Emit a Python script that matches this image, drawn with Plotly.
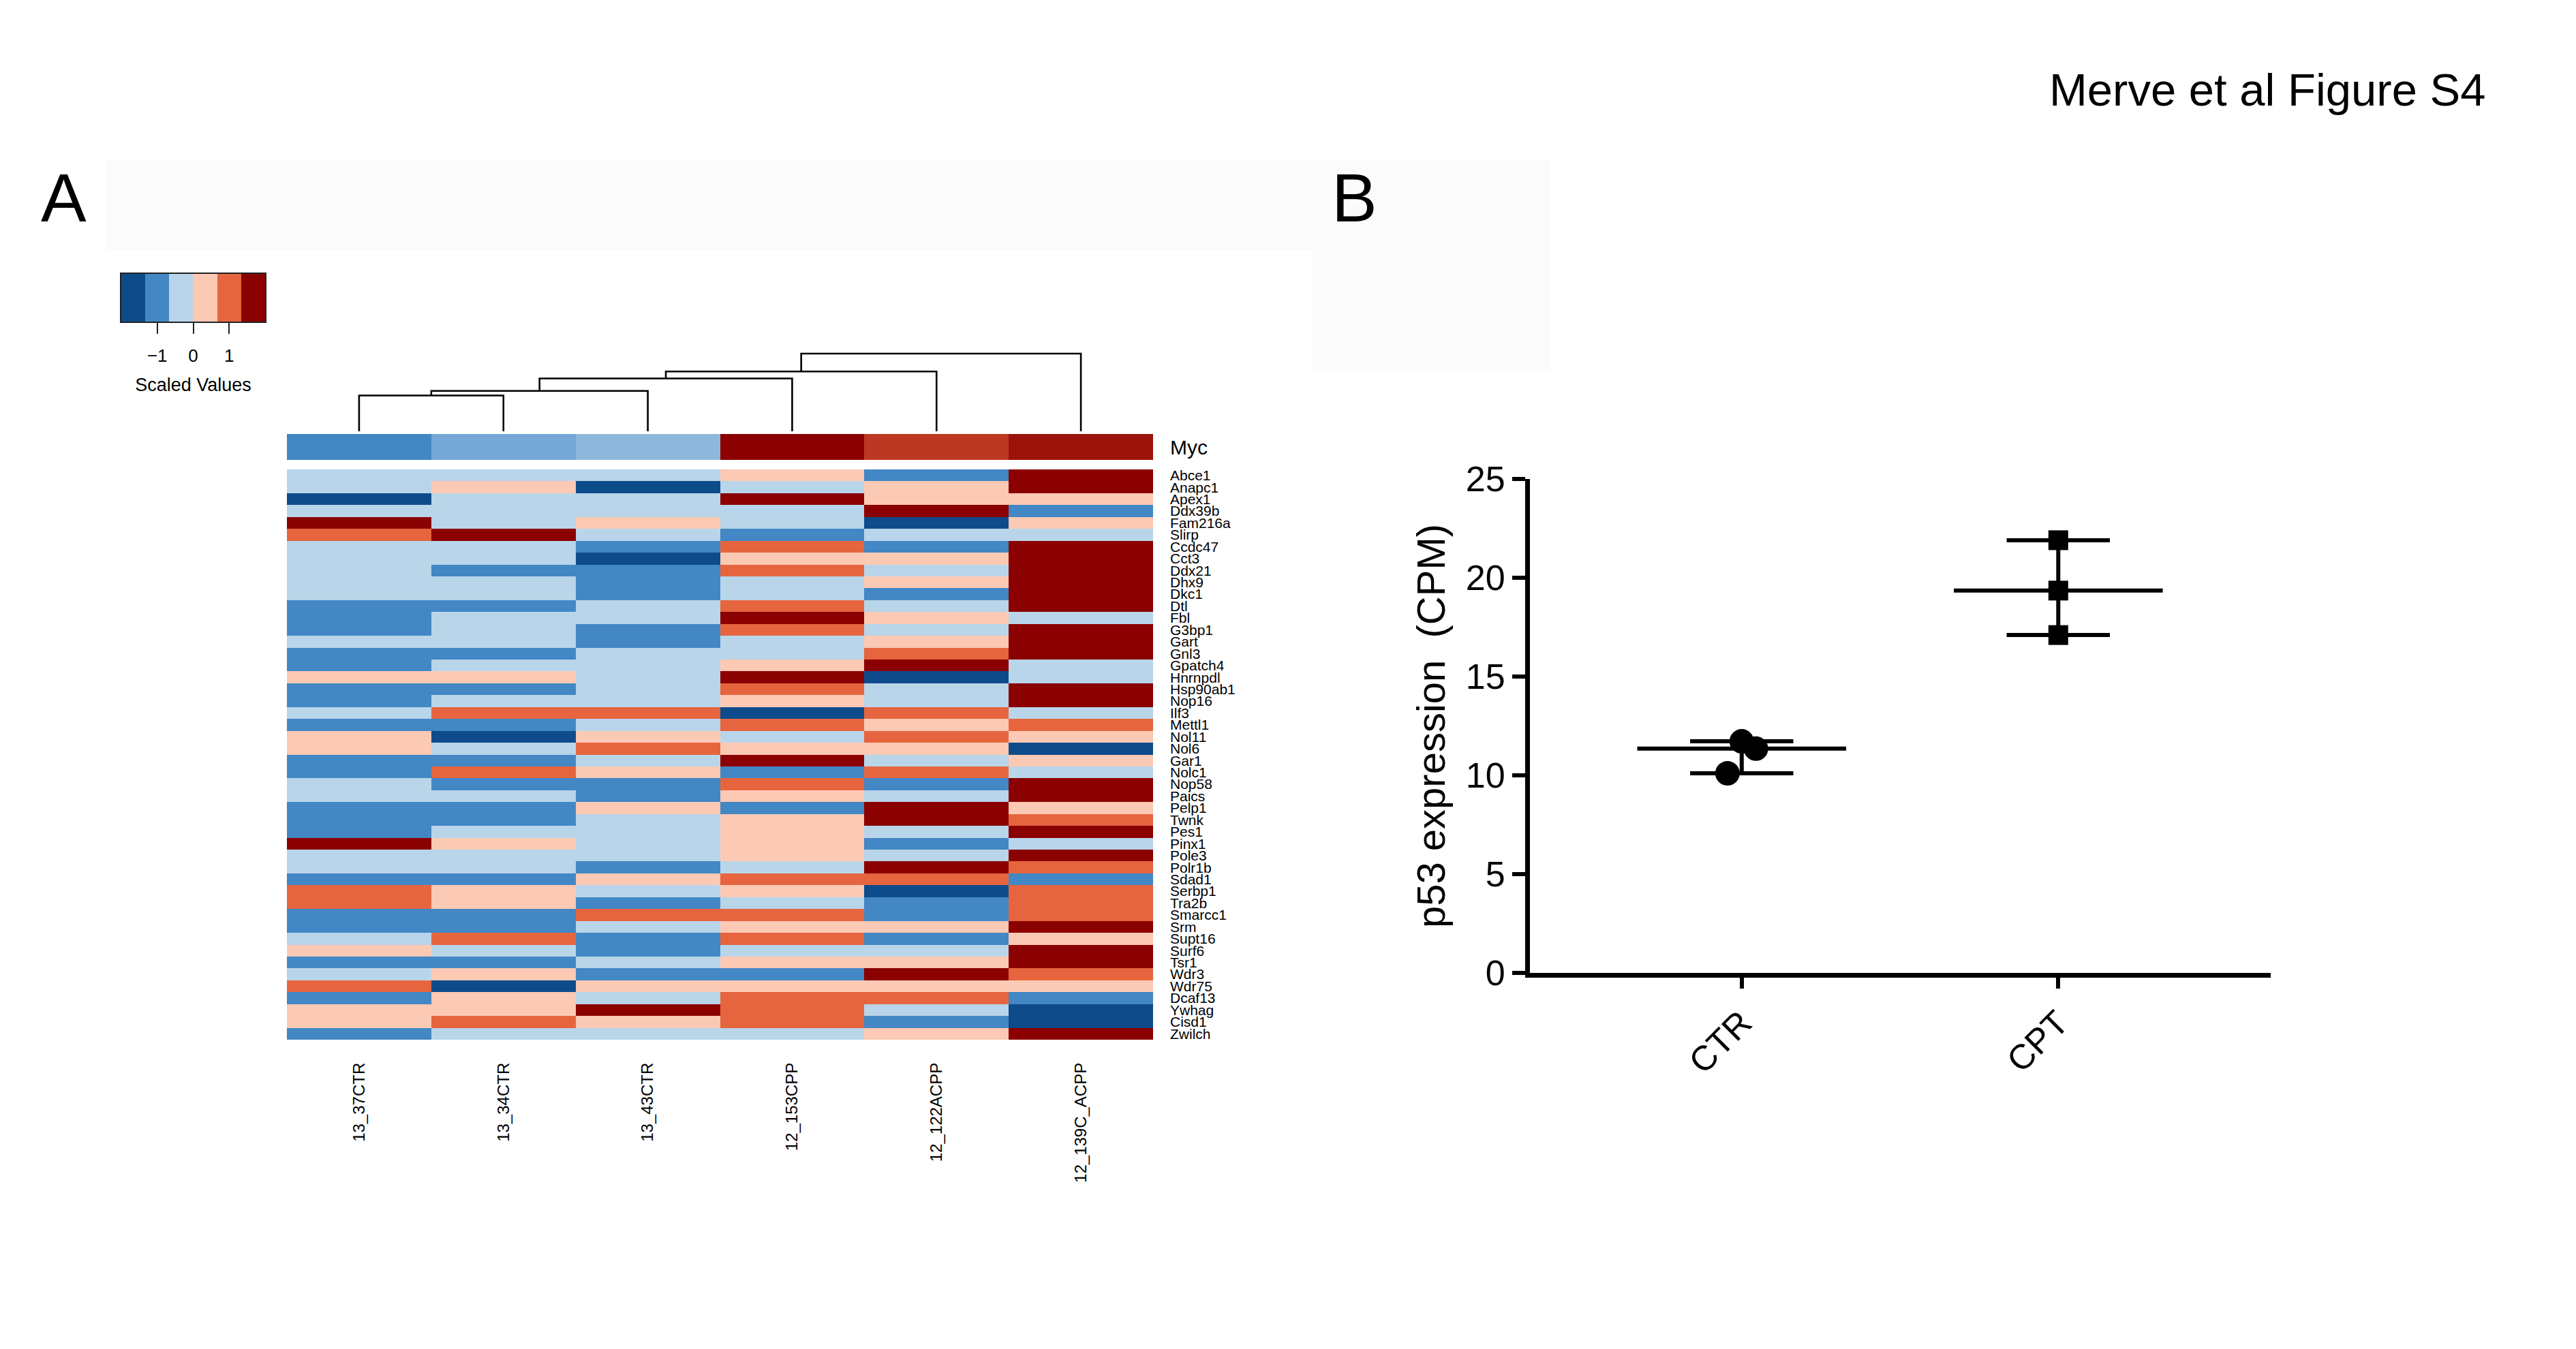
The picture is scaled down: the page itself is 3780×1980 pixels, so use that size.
import plotly.graph_objects as go
import numpy as np

# ---------------- data ----------------
samples = ["13_37CTR", "13_34CTR", "13_43CTR", "12_153CPP", "12_122ACPP", "12_139C_ACPP"]
genes = ["Abce1", "Anapc1", "Apex1", "Ddx39b", "Fam216a", "Slirp", "Ccdc47", "Cct3",
         "Ddx21", "Dhx9", "Dkc1", "Dtl", "Fbl", "G3bp1", "Gart", "Gnl3", "Gpatch4",
         "Hnrnpdl", "Hsp90ab1", "Nop16", "Ilf3", "Mettl1", "Nol11", "Nol6", "Gar1",
         "Nolc1", "Nop58", "Paics", "Pelp1", "Twnk", "Pes1", "Pinx1", "Pole3", "Polr1b",
         "Sdad1", "Serbp1", "Tra2b", "Smarcc1", "Srm", "Supt16", "Surf6", "Tsr1", "Wdr3",
         "Wdr75", "Dcaf13", "Ywhag", "Cisd1", "Zwilch"]

# scaled values (rows = genes, columns = samples)
scaled_values = [
    [-0.3, -0.3, -0.3, 0.3, -1.0, 1.7],
    [-0.3, 0.3, -1.7, -0.3, 0.3, 1.7],
    [-1.7, -0.3, -0.3, 1.7, 0.3, 0.3],
    [-0.3, -0.3, -0.3, -0.3, 1.7, -1.0],
    [1.7, -0.3, 0.3, -0.3, -1.7, 0.3],
    [1.0, 1.7, -0.3, -1.0, -0.3, -0.3],
    [-0.3, -0.3, -1.0, 1.0, -1.0, 1.7],
    [-0.3, -0.3, -1.7, 0.3, 0.3, 1.7],
    [-0.3, -1.0, -1.0, 1.0, -0.3, 1.7],
    [-0.3, -0.3, -1.0, -0.3, 0.3, 1.7],
    [-0.3, -0.3, -1.0, -0.3, -1.0, 1.7],
    [-1.0, -1.0, -0.3, 1.0, -0.3, 1.7],
    [-1.0, -0.3, -0.3, 1.7, 0.3, -0.3],
    [-1.0, -0.3, -1.0, 1.0, -0.3, 1.7],
    [-0.3, -0.3, -1.0, -0.3, 0.3, 1.7],
    [-1.0, -1.0, -0.3, -0.3, 1.0, 1.7],
    [-1.0, -0.3, -0.3, 0.3, 1.7, -0.3],
    [0.3, 0.3, -0.3, 1.7, -1.7, -0.3],
    [-1.0, -1.0, -0.3, 1.0, -0.3, 1.7],
    [-1.0, -0.3, -0.3, 0.3, -0.3, 1.7],
    [-0.3, 1.0, 1.0, -1.7, 1.0, -0.3],
    [-1.0, -1.0, -0.3, 1.0, 0.3, 1.0],
    [0.3, -1.7, 0.3, -0.3, 1.0, 0.3],
    [0.3, -0.3, 1.0, 0.3, 0.3, -1.7],
    [-1.0, -1.0, -0.3, 1.7, -0.3, 0.3],
    [-1.0, 1.0, 0.3, -1.0, 1.0, -0.3],
    [-0.3, -1.0, -1.0, 1.0, -1.0, 1.7],
    [-0.3, -0.3, -1.0, 0.3, -0.3, 1.7],
    [-1.0, -1.0, 0.3, -1.0, 1.7, 0.3],
    [-1.0, -1.0, -0.3, 0.3, 1.7, 1.0],
    [-1.0, -0.3, -0.3, 0.3, -0.3, 1.7],
    [1.7, 0.3, -0.3, 0.3, -1.0, -0.3],
    [-0.3, -0.3, -0.3, 0.3, -0.3, 1.7],
    [-0.3, -0.3, -1.0, -0.3, 1.7, 1.0],
    [-1.0, -1.0, 0.3, 1.0, 1.0, -1.0],
    [1.0, 0.3, -0.3, 0.3, -1.7, 1.0],
    [1.0, 0.3, -1.0, -0.3, -1.0, 1.0],
    [-1.0, -1.0, 1.0, 1.0, -1.0, 1.0],
    [-1.0, -1.0, -0.3, 0.3, 0.3, 1.7],
    [-0.3, 1.0, -1.0, 1.0, -1.0, 0.3],
    [0.3, -0.3, -1.0, -0.3, -0.3, 1.7],
    [-1.0, -1.0, -0.3, 0.3, 0.3, 1.7],
    [-0.3, 0.3, -1.0, -1.0, 1.7, 1.0],
    [1.0, -1.7, 0.3, 0.3, 0.3, 0.3],
    [-1.0, 0.3, -0.3, 1.0, 1.0, -1.0],
    [0.3, 0.3, 1.7, 1.0, -0.3, -1.7],
    [0.3, 1.0, 0.3, 1.0, -1.0, -1.7],
    [-1.0, -0.3, -0.3, -0.3, 0.3, 1.7],
]

myc_values = [-1.0, -0.72, -0.58, 1.8, 1.3, 1.54]
annotation_label = ["Myc"]

# dendrogram: successive merges of leaves in order, with relative heights
merge_heights = [0.46, 0.52, 0.68, 0.77, 1.0]

legend_levels = [-1.667, -1.0, -0.333, 0.333, 1.0, 1.667]
legend_ticks = [-1, 0, 1]

groups = ["CTR", "CPT"]
ctr_values = [11.72, 11.35, 10.1]
cpt_values = [21.9, 19.35, 17.1]
yticks_b = [0, 5, 10, 15, 20, 25]

# ---------------- styles ----------------
W, H = 3780, 1980
FONT = "Liberation Sans, Arial, Helvetica, sans-serif"
palette = ["#0e4b8b", "#4387c5", "#b9d5ea", "#fcc9b4", "#e6653f", "#8b0000"]
disc_scale = []
for i, c in enumerate(palette):
    disc_scale += [[i / 6, c], [(i + 1) / 6, c]]
cont_scale = [[0, palette[0]], [0.0833, palette[0]], [0.25, palette[1]], [0.4167, palette[2]],
              [0.5833, palette[3]], [0.75, palette[4]], [0.9167, palette[5]], [1, palette[5]]]

def fx(px):
    return px / W

def fy(py):
    return 1 - py / H

hm_x = [fx(421), fx(1692)]
ctr_offsets = [0.0, 0.045, -0.045]
cpt_offsets = [0.0, 0.0, 0.0]
median_half = 0.33
cap_half = 0.163

fig = go.Figure()

# main heatmap
fig.add_trace(go.Heatmap(z=scaled_values, x=list(range(len(samples))), y=list(range(len(genes))),
                         colorscale=disc_scale, zmin=-2, zmax=2, showscale=False,
                         xaxis="x", yaxis="y", hoverinfo="skip"))
# Myc annotation row
fig.add_trace(go.Heatmap(z=[myc_values], x=list(range(len(samples))), y=[0],
                         colorscale=cont_scale, zmin=-2, zmax=2, showscale=False,
                         xaxis="x2", yaxis="y2", hoverinfo="skip"))

# dendrogram
cl_x, cl_h = 0.0, 0.0
dx, dy = [], []
for k, h in enumerate(merge_heights):
    rx, rh = float(k + 1), 0.0
    dx += [cl_x, cl_x, rx, rx, None]
    dy += [cl_h, h, h, rh, None]
    cl_x, cl_h = (cl_x + rx) / 2, h
fig.add_trace(go.Scatter(x=dx, y=dy, mode="lines", line=dict(color="black", width=2.6),
                         xaxis="x3", yaxis="y3", hoverinfo="skip", showlegend=False))

# colour key
fig.add_trace(go.Heatmap(z=[legend_levels], x=legend_levels, y=[0], colorscale=disc_scale,
                         zmin=-2, zmax=2, showscale=False, xaxis="x4", yaxis="y4", hoverinfo="skip"))

# panel B: median with range
lx, ly = [], []
for i, vals in enumerate([ctr_values, cpt_values]):
    med, lo, hi = float(np.median(vals)), min(vals), max(vals)
    lx += [i - median_half, i + median_half, None,
           i - cap_half, i + cap_half, None,
           i - cap_half, i + cap_half, None,
           i, i, None]
    ly += [med, med, None, hi, hi, None, lo, lo, None, lo, hi, None]
fig.add_trace(go.Scatter(x=lx, y=ly, mode="lines", line=dict(color="black", width=6),
                         xaxis="x5", yaxis="y5", hoverinfo="skip", showlegend=False))
fig.add_trace(go.Scatter(x=[0 + o for o in ctr_offsets], y=ctr_values, mode="markers",
                         marker=dict(symbol="circle", size=36, color="black"),
                         xaxis="x5", yaxis="y5", showlegend=False, cliponaxis=False))
fig.add_trace(go.Scatter(x=[1 + o for o in cpt_offsets], y=cpt_values, mode="markers",
                         marker=dict(symbol="square", size=29, color="black"),
                         xaxis="x5", yaxis="y5", showlegend=False, cliponaxis=False))

noaxis = dict(showgrid=False, zeroline=False, automargin=False)

fig.update_layout(
    width=W, height=H, margin=dict(l=0, r=0, t=0, b=0, pad=0, autoexpand=False),
    paper_bgcolor="white", plot_bgcolor="white",
    font=dict(family=FONT, color="black"),
    showlegend=False,
    xaxis=dict(domain=hm_x, range=[-0.5, 5.5], tickvals=list(range(6)), ticktext=samples,
               tickangle=-90, ticks="", ticklabelstandoff=28, tickfont=dict(size=24),
               anchor="y", showline=False, **noaxis),
    yaxis=dict(domain=[fy(1526), fy(689)], range=[len(genes) - 0.5, -0.5],
               tickvals=list(range(len(genes))), ticktext=genes, side="right", ticks="",
               ticklabelstandoff=24, tickfont=dict(size=21), anchor="x", showline=False, **noaxis),
    xaxis2=dict(domain=hm_x, range=[-0.5, 5.5], showticklabels=False, ticks="", anchor="y2", **noaxis),
    yaxis2=dict(domain=[fy(675), fy(637)], range=[-0.5, 0.5], tickvals=[0], ticktext=annotation_label,
                side="right", ticks="", ticklabelstandoff=24, tickfont=dict(size=30), anchor="x2", **noaxis),
    xaxis3=dict(domain=hm_x, range=[-0.5, 5.5], visible=False, anchor="y3", automargin=False),
    yaxis3=dict(domain=[fy(633), fy(516.7)], range=[0, 1.02], visible=False, anchor="x3", automargin=False),
    xaxis4=dict(domain=[fx(178), fx(389)], range=[-2, 2], tickvals=legend_ticks,
                ticks="outside", ticklen=16, tickwidth=2, tickcolor="#222", tickfont=dict(size=26),
                ticklabelstandoff=10, showline=True, mirror=True, linewidth=2, linecolor="#222",
                title=dict(text="Scaled Values", font=dict(size=27), standoff=19), anchor="y4", **noaxis),
    yaxis4=dict(domain=[fy(472), fy(402)], range=[-0.5, 0.5], showticklabels=False, ticks="",
                showline=True, mirror=True, linewidth=2, linecolor="#222", anchor="x4", **noaxis),
    xaxis5=dict(domain=[fx(2245), fx(3332)], range=[-0.669, 1.671], tickvals=[0, 1], ticktext=groups,
                tickangle=-45, ticks="outside", ticklen=16, tickwidth=6, tickcolor="black",
                tickfont=dict(size=51), showline=True, linewidth=7, linecolor="black",
                anchor="y5", **noaxis),
    yaxis5=dict(domain=[fy(1428), fy(703)], range=[0, 25], tickvals=yticks_b,
                ticks="outside", ticklen=19, tickwidth=6, tickcolor="black", tickfont=dict(size=52),
                showline=True, linewidth=7, linecolor="black",
                title=dict(text="p53 expression\u00a0 (CPM)", font=dict(size=58), standoff=14),
                anchor="x5", **noaxis),
    shapes=[
        dict(type="rect", xref="paper", yref="paper", x0=fx(155), x1=fx(1925), y0=fy(367), y1=fy(235),
             fillcolor="#fbfbfb", line=dict(width=0), layer="below"),
        dict(type="rect", xref="paper", yref="paper", x0=fx(1924), x1=fx(2275), y0=fy(545), y1=fy(235),
             fillcolor="#fbfbfb", line=dict(width=0), layer="below"),
    ],
    annotations=[
        dict(text="A", x=fx(58), y=fy(290), xref="paper", yref="paper", xanchor="left", yanchor="middle",
             showarrow=False, font=dict(size=100, family=FONT)),
        dict(text="B", x=fx(1952), y=fy(290), xref="paper", yref="paper", xanchor="left", yanchor="middle",
             showarrow=False, font=dict(size=100, family=FONT)),
        dict(text="Merve et al Figure S4", x=fx(3650), y=fy(132), xref="paper", yref="paper",
             xanchor="right", yanchor="middle", showarrow=False, font=dict(size=67, family=FONT)),
    ],
)

fig.write_html("out.html", config={"displayModeBar": False},
               post_script="document.body.style.margin='0';document.body.style.overflow='hidden';")
